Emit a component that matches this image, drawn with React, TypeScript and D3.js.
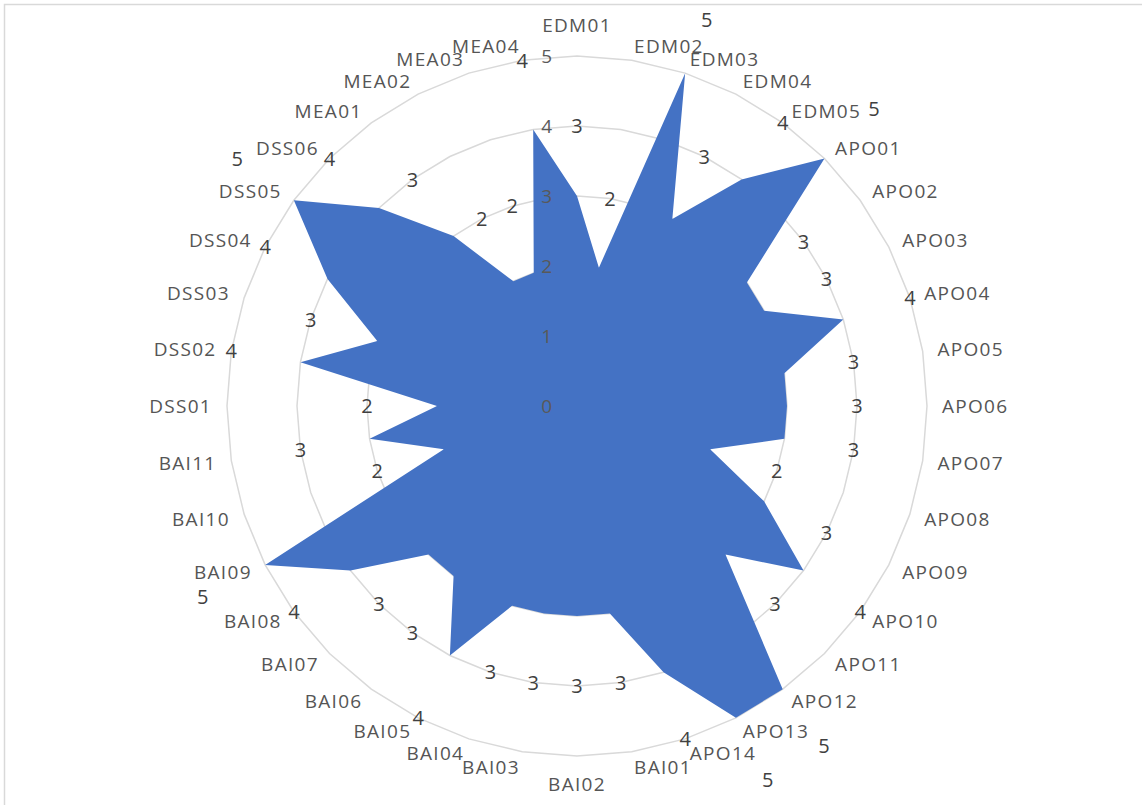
import { useEffect, useRef } from 'react';
import * as d3 from 'd3';

// categories clockwise from the top
const categories = [
  'EDM01', 'EDM02', 'EDM03', 'EDM04', 'EDM05',
  'APO01', 'APO02', 'APO03', 'APO04', 'APO05', 'APO06', 'APO07', 'APO08', 'APO09', 'APO10', 'APO11', 'APO12', 'APO13', 'APO14',
  'BAI01', 'BAI02', 'BAI03', 'BAI04', 'BAI05', 'BAI06', 'BAI07', 'BAI08', 'BAI09', 'BAI10', 'BAI11',
  'DSS01', 'DSS02', 'DSS03', 'DSS04', 'DSS05', 'DSS06',
  'MEA01', 'MEA02', 'MEA03', 'MEA04',
];

const scores = [
  3, 2, 5, 3, 4,
  5, 3, 3, 4, 3, 3, 3, 2, 3, 4, 3, 5, 5, 4,
  3, 3, 3, 3, 4, 3, 3, 4, 5, 2, 3,
  2, 4, 3, 4, 5, 4,
  3, 2, 2, 4,
];

const axisTicks = [0, 1, 2, 3, 4, 5];

const WIDTH = 1142;
const HEIGHT = 805;

export default function App() {
  const svgRef = useRef<SVGSVGElement>(null);

  useEffect(() => {
    if (!svgRef.current) return;
    const root = d3.select(svgRef.current);
    root.selectAll('*').remove();

    const cx = 577;
    const cy = 406;
    const n = categories.length;

    const r = d3.scaleLinear().domain([0, 5]).range([0, 350]);
    const angle = d3.scaleLinear().domain([0, n]).range([0, 2 * Math.PI]);

    // chart border
    root.append('rect')
      .attr('x', 4.5)
      .attr('y', 4.5)
      .attr('width', WIDTH + 20)
      .attr('height', HEIGHT + 20)
      .attr('fill', '#fff')
      .attr('stroke', '#d9d9d9')
      .attr('stroke-width', 1.5);

    const g = root.append('g').attr('transform', `translate(${cx},${cy})`);

    // grid rings
    const ring = d3.lineRadial<number>()
      .angle((_, i) => angle(i))
      .radius(d => r(d))
      .curve(d3.curveLinearClosed);

    axisTicks.filter(t => t > 0).forEach(t => {
      g.append('path')
        .datum(categories.map(() => t))
        .attr('fill', 'none')
        .attr('stroke', '#d9d9d9')
        .attr('stroke-width', 1.5)
        .attr('d', ring);
    });

    // filled series
    g.append('path')
      .datum(scores)
      .attr('fill', '#4472c4')
      .attr('d', ring);

    // value axis labels
    g.selectAll('.axis-label')
      .data(axisTicks)
      .enter()
      .append('text')
      .attr('class', 'axis-label')
      .attr('x', -25)
      .attr('y', d => -r(d) + 7)
      .attr('text-anchor', 'end')
      .attr('fill', '#595959')
      .style('font-family', '"Open Sans", sans-serif')
      .style('font-size', '19px')
      .text(d => d);

    // category labels
    const labelR = r(5) + 15;
    g.selectAll('.cat-label')
      .data(categories)
      .enter()
      .append('text')
      .attr('class', 'cat-label')
      .each(function (d, i) {
        const a = angle(i);
        const s = Math.sin(a);
        const c = Math.cos(a);
        const px = labelR * s;
        const py = -labelR * c;
        const t = d3.select(this);
        if (Math.abs(s) < 0.01) {
          t.attr('x', px).attr('text-anchor', 'middle').attr('y', c > 0 ? py - 9 : py + 20);
        } else {
          t.attr('x', px).attr('text-anchor', s > 0 ? 'start' : 'end').attr('y', py + 7);
        }
      })
      .attr('fill', '#555')
      .style('font-family', '"Open Sans", sans-serif')
      .style('font-size', '19px')
      .style('letter-spacing', '1.3px')
      .text(d => d);

    // data labels, one ring step outside each point, kept inside the chart area
    g.selectAll('.data-label')
      .data(scores)
      .enter()
      .append('text')
      .attr('class', 'data-label')
      .attr('x', (d, i) => (r(d) + r(1)) * Math.sin(angle(i)))
      .attr('y', (d, i) => Math.max(20 - cy, -(r(d) + r(1)) * Math.cos(angle(i))))
      .attr('dy', '0.36em')
      .attr('text-anchor', 'middle')
      .attr('fill', '#404040')
      .style('font-family', '"Open Sans", sans-serif')
      .style('font-size', '20px')
      .text(d => d);
  }, []);

  return (
    <div style={{ position: 'fixed', left: 0, top: 0, width: WIDTH, height: HEIGHT, background: '#fff' }}>
      <svg ref={svgRef} width={WIDTH} height={HEIGHT}></svg>
    </div>
  );
}
